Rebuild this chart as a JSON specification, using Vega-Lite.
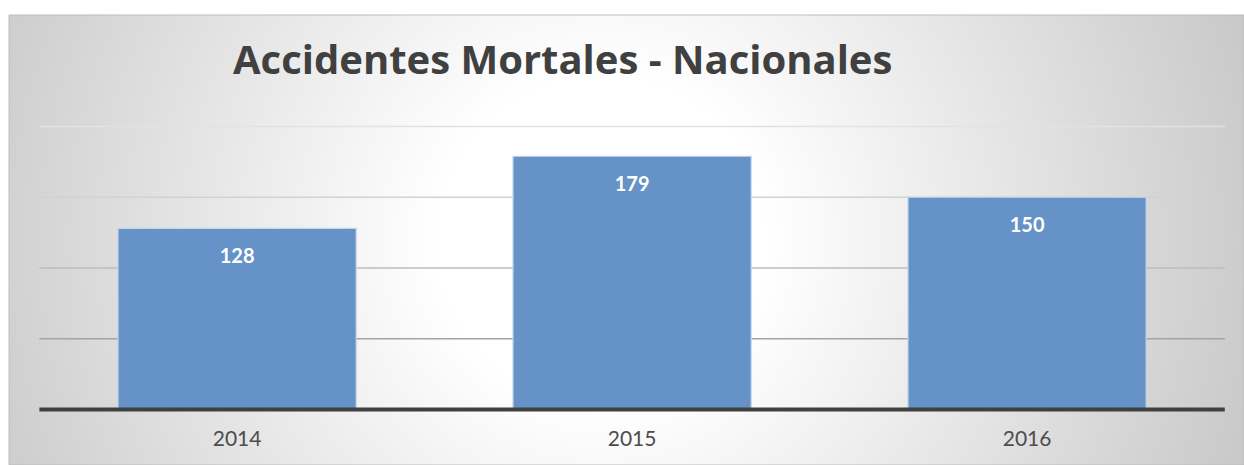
{
  "$schema": "https://vega.github.io/schema/vega-lite/v6.json",
  "width": 1235,
  "height": 450,
  "autosize": {"type": "none"},
  "padding": {"left": 9, "top": 15, "right": 0, "bottom": 0},
  "background": "#ffffff",
  "config": {"view": {"stroke": null}},
  "title": {
    "text": "Accidentes Mortales - Nacionales",
    "anchor": "start",
    "frame": "group",
    "dx": 224,
    "offset": -99,
    "baseline": "alphabetic",
    "font": "Open Sans",
    "fontSize": 40,
    "fontWeight": "bold",
    "color": "#404040"
  },
  "datasets": {
    "bars": [
      {"year": "2014", "value": 128},
      {"year": "2015", "value": 179},
      {"year": "2016", "value": 150}
    ],
    "grid": [
      {"v": 50},
      {"v": 100},
      {"v": 150},
      {"v": 200}
    ]
  },
  "resolve": {"scale": {"x": "shared", "y": "shared"}},
  "layer": [
    {
      "data": {"values": [{"a": 1}]},
      "mark": {
        "type": "rect",
        "stroke": "#bdbdbd",
        "strokeWidth": 1,
        "fill": {
          "gradient": "radial",
          "x1": 0.48, "y1": 0.5, "r1": 0,
          "x2": 0.48, "y2": 0.5, "r2": 0.6,
          "stops": [
            {"offset": 0, "color": "#ffffff"},
            {"offset": 0.22, "color": "#ffffff"},
            {"offset": 1, "color": "#c2c2c2"}
          ]
        }
      },
      "encoding": {}
    },
    {
      "data": {"name": "grid"},
      "mark": {"type": "rule", "strokeWidth": 1.5},
      "encoding": {
        "y": {"field": "v", "type": "quantitative", "scale": {"domain": [-39.2, 278.8], "nice": false, "zero": false}, "axis": null},
        "x": {"datum": "2014", "bandPosition": -0.33, "type": "nominal"},
        "x2": {"datum": "2016", "bandPosition": 1.33},
        "color": {
          "condition": [
            {"test": "datum.v == 200", "value": "#e2e2e2"},
            {"test": "datum.v == 150", "value": "#d2d2d2"},
            {"test": "datum.v == 100", "value": "#bcbcbc"}
          ],
          "value": "#a3a3a3"
        }
      }
    },
    {
      "data": {"name": "bars"},
      "mark": {"type": "bar", "color": "#6592c7", "stroke": "#c5d5ea", "strokeWidth": 1.2},
      "encoding": {
        "x": {
          "field": "year",
          "type": "nominal",
          "sort": null,
          "scale": {"type": "band", "domain": ["2014", "2015", "2016"], "paddingInner": 0.397, "paddingOuter": 0.2618, "align": 0.527},
          "axis": {
            "title": null,
            "orient": "bottom",
            "domain": false,
            "ticks": false,
            "grid": false,
            "bandPosition": 0.5,
            "labelAngle": 0,
            "labelAlign": "center",
            "labelFont": "Lato",
            "labelFontSize": 21,
            "labelColor": "#4d4d4d",
            "labelBaseline": "middle",
            "labelPadding": 0,
            "offset": -26,
            "zindex": 2
          }
        },
        "y": {"field": "value", "type": "quantitative", "axis": null}
      }
    },
    {
      "data": {"values": [{"z": 0}]},
      "mark": {"type": "rule", "strokeWidth": 4, "color": "#404040"},
      "encoding": {
        "y": {"datum": 0, "type": "quantitative"},
        "x": {"datum": "2014", "bandPosition": -0.33, "type": "nominal"},
        "x2": {"datum": "2016", "bandPosition": 1.33}
      }
    },
    {
      "data": {"name": "bars"},
      "mark": {"type": "text", "baseline": "middle", "dy": 29, "font": "Lato", "fontSize": 20, "fontWeight": "bold", "color": "#ffffff"},
      "encoding": {
        "x": {"field": "year", "type": "nominal", "bandPosition": 0.5},
        "y": {"field": "value", "type": "quantitative"},
        "text": {"field": "value", "type": "quantitative"}
      }
    }
  ]
}
